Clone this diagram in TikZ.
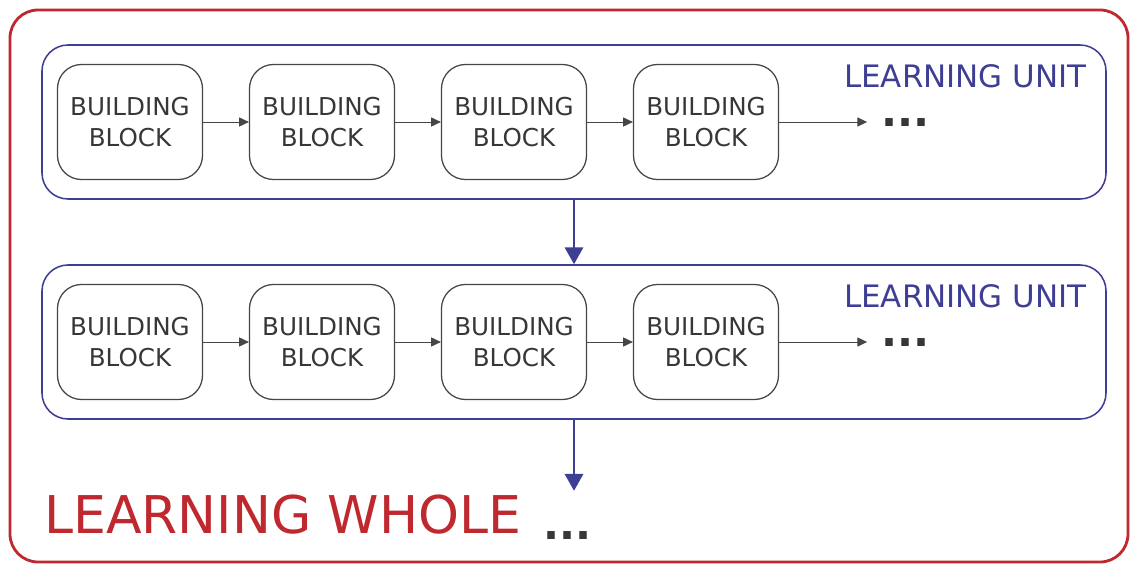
\documentclass[tikz,border=0pt]{standalone}
\usepackage{fontspec}
\setmainfont{DejaVu Sans}
\usetikzlibrary{arrows.meta}
\definecolor{wholered}{RGB}{190,40,46}
\definecolor{unitblue}{RGB}{62,62,148}
\definecolor{blockgray}{RGB}{70,70,70}
\definecolor{textgray}{RGB}{55,55,55}
\tikzstyle{whole} = [rounded corners=0.7cm, draw=wholered, line width=2pt]
\tikzstyle{unit} = [rectangle, rounded corners=0.65cm, minimum width=26.6cm, minimum height=3.85cm, draw=unitblue, line width=1.1pt]
\tikzstyle{block} = [rectangle, rounded corners=0.6cm, minimum width=3.625cm, minimum height=2.875cm, align=center, draw=blockgray, line width=0.9pt, text=textgray, font=\fontsize{17.5}{21.5}\selectfont]
\tikzstyle{unitlabel} = [inner sep=0pt, text=unitblue, font=\fontsize{22}{26}\selectfont]
\tikzstyle{wholelabel} = [inner sep=0pt, text=wholered, font=\fontsize{37}{44}\selectfont]
\tikzstyle{dots} = [inner sep=0pt, text=textgray, font=\fontsize{30}{36}\selectfont\bfseries]
\tikzstyle{arrow} = [line width=0.7pt, draw=blockgray, -{Triangle[length=7pt,width=6.5pt]}]
\tikzstyle{bigarrow} = [line width=1.7pt, draw=unitblue, -{Triangle[length=12pt,width=13pt]}]

\begin{document}
\begin{tikzpicture}[node distance = 4.8cm]
	\useasboundingbox (0,0) rectangle (28.3,-14.125);
	\draw [whole] (0.25,-0.25) rectangle (28.2,-14.05);
	
	\node (unit1) [unit] at (14.35,-3.05) {};
	\node (unit2) [unit, below of = unit1, yshift = -0.7cm] {};
	
	\node (b1) [block] at (3.25,-3.05) {BUILDING\\BLOCK};
	\node (b2) [block, right of = b1] {BUILDING\\BLOCK};
	\node (b3) [block, right of = b2] {BUILDING\\BLOCK};
	\node (b4) [block, right of = b3] {BUILDING\\BLOCK};
	\node (c1) [block, below of = b1, yshift = -0.7cm] {BUILDING\\BLOCK};
	\node (c2) [block, right of = c1] {BUILDING\\BLOCK};
	\node (c3) [block, right of = c2] {BUILDING\\BLOCK};
	\node (c4) [block, right of = c3] {BUILDING\\BLOCK};
	
	\node (lbl1) [unitlabel, anchor = base east] at ([xshift = -0.5cm, yshift = -1.075cm]unit1.north east) {LEARNING UNIT};
	\node (lbl2) [unitlabel, anchor = base east] at ([xshift = -0.5cm, yshift = -1.075cm]unit2.north east) {LEARNING UNIT};
	
	\coordinate (end1) at ([xshift = 2.2cm]b4.east);
	\coordinate (end2) at ([xshift = 2.2cm]c4.east);
	\node (dots1) [dots, anchor = base west] at ([xshift = 0.35cm, yshift = -0.12cm]end1) {...};
	\node (dots2) [dots, anchor = base west] at ([xshift = 0.35cm, yshift = -0.12cm]end2) {...};
	
	\node (whole) [wholelabel, anchor = base west] at (1.1,-13.325) {LEARNING WHOLE};
	\node (dots3) [dots, anchor = base west] at ([xshift = 0.55cm, yshift = -0.15cm]whole.base east) {...};
	
	\draw [arrow] (b1) -- (b2);
	\draw [arrow] (b2) -- (b3);
	\draw [arrow] (b3) -- (b4);
	\draw [arrow] (b4) -- (end1);
	\draw [arrow] (c1) -- (c2);
	\draw [arrow] (c2) -- (c3);
	\draw [arrow] (c3) -- (c4);
	\draw [arrow] (c4) -- (end2);
	
	\coordinate (next) at ([yshift = -1.775cm]unit2.south);
	\draw [bigarrow] (unit1.south) -- (unit2.north);
	\draw [bigarrow] (unit2.south) -- (next);
\end{tikzpicture}
\end{document}
